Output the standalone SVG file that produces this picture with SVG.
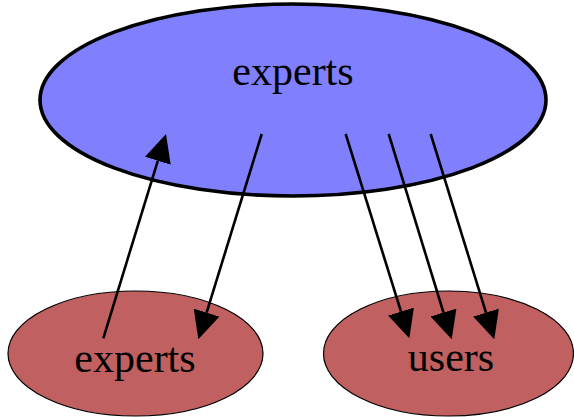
<svg xmlns="http://www.w3.org/2000/svg" width="574" height="417" viewBox="0 0 574 417">
  <style>
    .label { font-family: "Liberation Serif", "Times New Roman", serif; font-size: 42px; fill: #000; text-anchor: middle; }
    .edge { fill: none; stroke: #000; stroke-width: 2.6; }
    .small { fill: #c06060; stroke: #000; stroke-width: 1.2; }
  </style>
  <defs>
    <marker id="arrow" markerUnits="userSpaceOnUse" markerWidth="28" markerHeight="27" viewBox="0 0 28 27" refX="0" refY="13.5" orient="auto">
      <path d="M0,0 L28,13.5 L0,27 z" fill="#000"/>
    </marker>
  </defs>
  <rect width="574" height="417" fill="#fff"/>

  <g id="node-experts-top">
    <ellipse cx="293" cy="100" rx="253" ry="96" fill="#8080ff" stroke="#000" stroke-width="3.6"/>
    <text class="label" x="293" y="85">experts</text>
  </g>
  <g id="node-experts-bottom">
    <ellipse class="small" cx="135.5" cy="353.5" rx="127.5" ry="62.5"/>
    <text class="label" x="135" y="372">experts</text>
  </g>
  <g id="node-users">
    <ellipse class="small" cx="448.5" cy="353.5" rx="125" ry="62.5"/>
    <text class="label" x="451" y="371">users</text>
  </g>

  <g id="edges">
    <path class="edge" d="M103.3,338.3 L157.8,160.8" marker-end="url(#arrow)"/>
    <path class="edge" d="M261.7,134 L206.6,312.6" marker-end="url(#arrow)"/>
    <path class="edge" d="M345.7,134 L401,311.6" marker-end="url(#arrow)"/>
    <path class="edge" d="M388.7,134 L443.5,312.5" marker-end="url(#arrow)"/>
    <path class="edge" d="M430.7,134 L486,312.6" marker-end="url(#arrow)"/>
  </g>
</svg>
